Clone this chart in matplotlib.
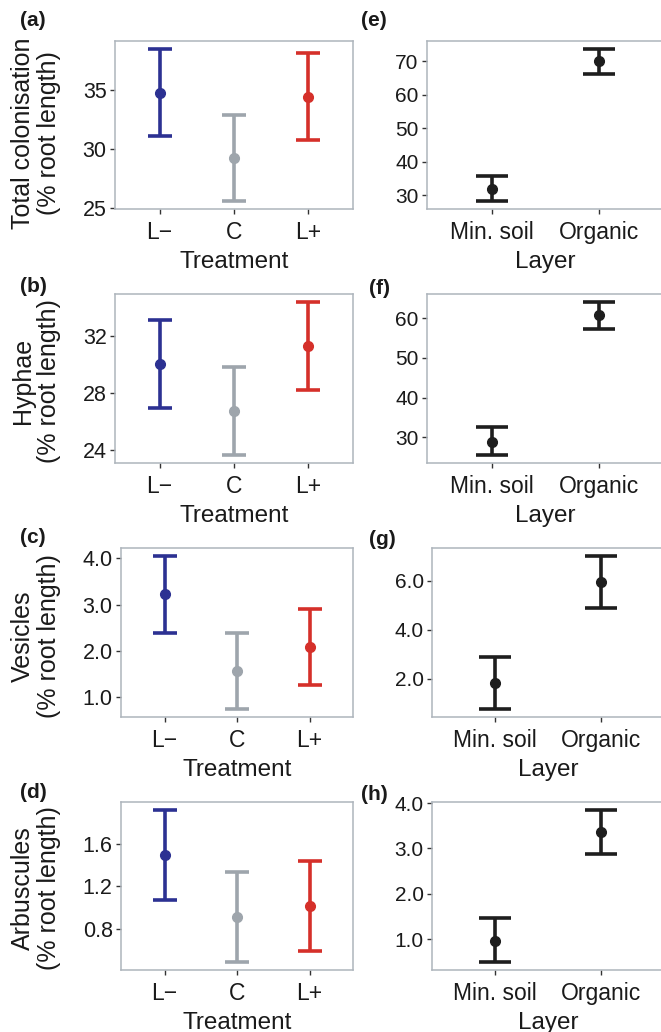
import matplotlib
matplotlib.use("Agg")
import matplotlib.pyplot as plt
from matplotlib.ticker import FormatStrFormatter, FixedLocator

plt.rcParams['font.family'] = ['Liberation Sans', 'DejaVu Sans']

# ---------------- data ----------------
treatments = ["L\u2212", "C", "L+"]
treat_colors = ["#2C3192", "#9EA5AC", "#D5302A"]
layers = ["Min. soil", "Organic"]
layer_color = "#1E1E1E"

# (a) total colonisation by treatment
total_t_mean = [34.78, 29.22, 34.44]
total_t_low = [31.10, 25.58, 30.77]
total_t_high = [38.50, 32.90, 38.13]
# (b) hyphae by treatment
hyph_t_mean = [30.03, 26.72, 31.30]
hyph_t_low = [26.93, 23.64, 28.20]
hyph_t_high = [33.15, 29.82, 34.42]
# (c) vesicles by treatment
ves_t_mean = [3.22, 1.56, 2.08]
ves_t_low = [2.39, 0.73, 1.265]
ves_t_high = [4.06, 2.39, 2.905]
# (d) arbuscules by treatment
arb_t_mean = [1.495, 0.911, 1.013]
arb_t_low = [1.075, 0.490, 0.592]
arb_t_high = [1.918, 1.334, 1.442]

# (e) total colonisation by layer
total_l_mean = [31.9, 70.0]
total_l_low = [28.1, 66.35]
total_l_high = [35.6, 73.85]
# (f) hyphae by layer
hyph_l_mean = [28.9, 60.7]
hyph_l_low = [25.5, 57.2]
hyph_l_high = [32.5, 64.1]
# (g) vesicles by layer
ves_l_mean = [1.82, 5.93]
ves_l_low = [0.76, 4.88]
ves_l_high = [2.90, 7.02]
# (h) arbuscules by layer
arb_l_mean = [0.963, 3.36]
arb_l_low = [0.49, 2.88]
arb_l_high = [1.457, 3.856]

ylabels = ["Total colonisation\n(% root length)", "Hyphae\n(% root length)",
           "Vesicles\n(% root length)", "Arbuscules\n(% root length)"]
left_ticks = [[25, 30, 35], [24, 28, 32], [1.0, 2.0, 3.0, 4.0], [0.8, 1.2, 1.6]]
left_fmt = ["%d", "%d", "%.1f", "%.1f"]
right_ticks = [[30, 40, 50, 60, 70], [30, 40, 50, 60], [2.0, 4.0, 6.0], [1.0, 2.0, 3.0, 4.0]]
right_fmt = ["%d", "%d", "%.1f", "%.1f"]
left_letters = ["(a)", "(b)", "(c)", "(d)"]
right_letters = ["(e)", "(f)", "(g)", "(h)"]

left_data = [(total_t_mean, total_t_low, total_t_high),
             (hyph_t_mean, hyph_t_low, hyph_t_high),
             (ves_t_mean, ves_t_low, ves_t_high),
             (arb_t_mean, arb_t_low, arb_t_high)]
right_data = [(total_l_mean, total_l_low, total_l_high),
              (hyph_l_mean, hyph_l_low, hyph_l_high),
              (ves_l_mean, ves_l_low, ves_l_high),
              (arb_l_mean, arb_l_low, arb_l_high)]

# ---------------- layout (pixels) ----------------
W, H = 661, 1032
fig = plt.figure(figsize=(W / 100, H / 100), dpi=100)
fig.patch.set_facecolor("white")

left_boxes = [(115, 41, 353, 209), (115, 294, 353, 463),
              (121, 548, 353, 717), (121, 802, 353, 970)]
right_boxes = [(427, 41, 664, 209), (427, 294, 664, 463),
               (432, 548, 664, 717), (432, 802, 664, 970)]
left_letter_pos = [(20, 11), (20, 277), (20, 528), (20, 783)]
right_letter_pos = [(361, 11), (369, 279), (369, 530), (361, 785)]
ylabel_cy = [133, 381, 636, 888]

FRAME = "#AEB5BC"
TICKC = "#333333"
TXT = "#1A1A1A"


def make_ax(box):
    x0, y0, x1, y1 = box
    return fig.add_axes([x0 / W, 1 - y1 / H, (x1 - x0) / W, (y1 - y0) / H])


def style(ax, ticks, fmt, cats, xlabel, ysize):
    for s in ax.spines.values():
        s.set_color(FRAME)
        s.set_linewidth(1.1)
    ax.yaxis.set_major_locator(FixedLocator(ticks))
    ax.yaxis.set_major_formatter(FormatStrFormatter(fmt))
    ax.set_xticks(range(len(cats)))
    ax.set_xticklabels(cats)
    ax.set_xlim(-0.6, len(cats) - 0.4)
    ax.margins(y=0.05)
    ax.tick_params(axis="y", labelsize=ysize, length=3.5, width=1.0,
                   color=TICKC, pad=2.5, labelcolor=TXT)
    ax.tick_params(axis="x", labelsize=16.5, length=3.5, width=1.0,
                   color=TICKC, pad=5, labelcolor=TXT)
    ax.set_xlabel(xlabel, fontsize=17.5, color=TXT, labelpad=5)


for i in range(4):
    # left column: by treatment
    ax = make_ax(left_boxes[i])
    mean, low, high = left_data[i]
    for j in range(len(treatments)):
        ax.errorbar([j], [mean[j]], yerr=[[mean[j] - low[j]], [high[j] - mean[j]]],
                    fmt="o", color=treat_colors[j], ecolor=treat_colors[j],
                    markersize=7, elinewidth=2.6, capsize=8.5, capthick=2.6)
    style(ax, left_ticks[i], left_fmt[i], treatments, "Treatment", 15.5)
    fig.text(36 / W, 1 - ylabel_cy[i] / H, ylabels[i], rotation=90, ha="center", va="center",
             fontsize=18, color=TXT, multialignment="center", linespacing=1.1)
    lx, ly = left_letter_pos[i]
    fig.text(lx / W, 1 - ly / H, left_letters[i], fontsize=15, fontweight="bold",
             ha="left", va="top", color=TXT)

    # right column: by layer
    ax = make_ax(right_boxes[i])
    mean, low, high = right_data[i]
    ax.errorbar(range(len(layers)), mean,
                yerr=[[m - l for m, l in zip(mean, low)], [h - m for m, h in zip(mean, high)]],
                fmt="o", color=layer_color, ecolor=layer_color,
                markersize=7, elinewidth=2.6, capsize=11.5, capthick=2.6)
    style(ax, right_ticks[i], right_fmt[i], layers, "Layer", 15)
    lx, ly = right_letter_pos[i]
    fig.text(lx / W, 1 - ly / H, right_letters[i], fontsize=15, fontweight="bold",
             ha="left", va="top", color=TXT)

fig.savefig("out.png", dpi=100, facecolor="white")
